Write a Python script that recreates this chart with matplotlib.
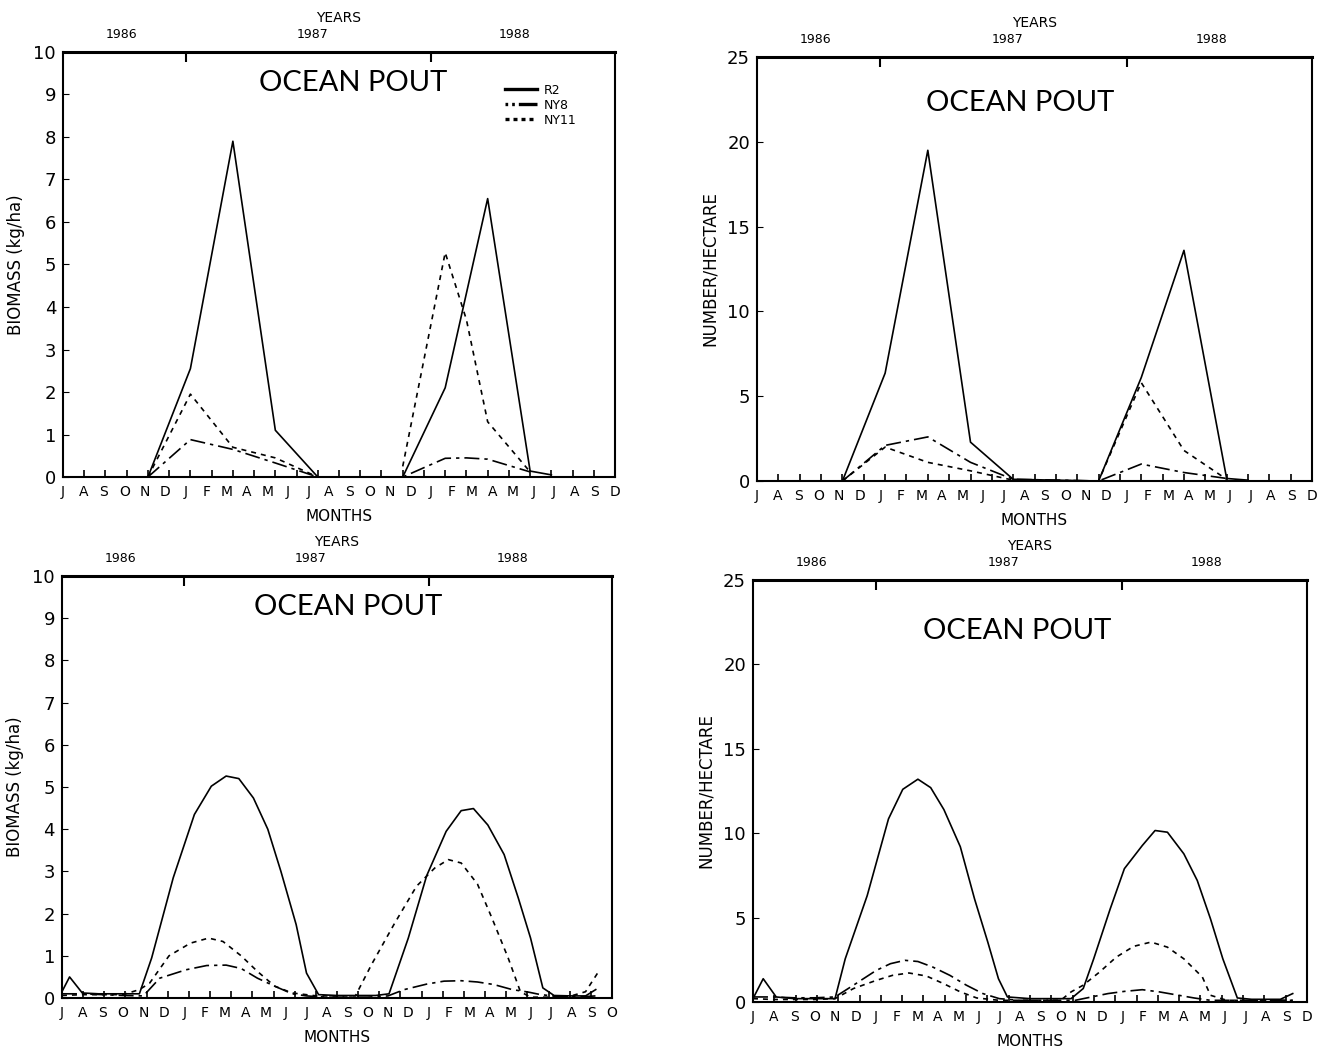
import matplotlib
matplotlib.use("Agg")
import matplotlib.pyplot as plt

nan = float('nan')

# eje de datos: meses desde julio 1986 (0) hasta septiembre 1988 (26)
# las letras de los meses estan repartidas en 28 posiciones sobre el eje
meses = ['J', 'A', 'S', 'O', 'N', 'D', 'J', 'F', 'M', 'A', 'M', 'J', 'J', 'A',
         'S', 'O', 'N', 'D', 'J', 'F', 'M', 'A', 'M', 'J', 'J', 'A', 'S', 'D']
meses_bl = meses[:-1] + ['O']
anios = ['1986', '1987', '1988']
anios_pos = [2.85, 12.2, 22.1]      # en posiciones de letra (0..27)
cortes_anio = [6, 18]               # en posiciones de letra

# --- biomasa, datos crudos (arriba izquierda)
bio_x_r2 = [0, 4, 6, 8, 10, 12, 16, 18, 20, 22, 23]
bio_r2 = [0, 0, 2.55, 7.9, 1.1, 0.0, 0, 2.1, 6.55, 0.14, 0.05]
bio_x_ny8 = [4, 6, 8, 10, 12, 16, 18, 19, 20, 22]
bio_ny8 = [0, 0.88, 0.65, 0.33, 0.0, 0, 0.44, 0.45, 0.42, 0.12]
bio_x_ny11 = [4, 6, 8, 10, 12, 14, 16, 18, 19, 20, 22]
bio_ny11 = [0, 1.95, 0.7, 0.45, 0.0, nan, 0.25, 5.28, 3.7, 1.3, 0.12]

# --- numero/hectarea, datos crudos (arriba derecha)
num_x_r2 = [0, 4, 6, 8, 10, 12, 16, 18, 20, 22, 23]
num_r2 = [0, 0, 6.36, 19.5, 2.29, 0.1, 0, 6.1, 13.6, 0.15, 0.05]
num_x_ny8 = [4, 6, 8, 10, 12, 16, 18, 20, 22]
num_ny8 = [0, 2.1, 2.6, 1.1, 0.1, 0, 1.0, 0.5, 0.15]
num_x_ny11 = [4, 6, 8, 10, 12, 16, 18, 20, 22]
num_ny11 = [0, 2.0, 1.1, 0.6, 0.05, 0, 5.8, 1.8, 0.1]

# --- biomasa suavizada (abajo izquierda)
bios_x_r2 = [0, 0.36, 0.96, 1.73, 2.7, 3.66, 4.24, 5.26, 6.26, 7.06, 7.76, 8.36,
             9.05, 9.73, 10.35, 11.07, 11.56, 12.13, 13.0, 13.96, 14.83, 15.46,
             16.37, 17.24, 18.16, 18.87, 19.45, 20.13, 20.9, 21.57, 22.15, 22.73,
             23.26, 24.07, 24.75, 25.23]
bios_r2 = [0.15, 0.5, 0.12, 0.1, 0.1, 0.1, 0.95, 2.85, 4.35, 5.02, 5.26, 5.2,
           4.74, 4.0, 3.0, 1.74, 0.59, 0.08, 0.06, 0.06, 0.06, 0.1,
           1.42, 2.9, 3.95, 4.44, 4.49, 4.1, 3.4, 2.37, 1.42, 0.24,
           0.06, 0.05, 0.05, 0.2]
bios_x_ny8 = [0, 0.96, 1.93, 2.89, 3.85, 4.62, 5.87, 6.84, 7.76, 8.47, 9.24,
              10.06, 10.88, 11.56, 12.52, 13.48, 14.44, 15.41, 16.18, 17.24,
              18.06, 18.87, 19.64, 20.41, 21.28, 22.05, 22.63, 23.59, 24.56, 25.23]
bios_ny8 = [0.1, 0.1, 0.08, 0.06, 0.05, 0.47, 0.67, 0.77, 0.78, 0.7, 0.47,
            0.28, 0.1, 0.05, 0.02, 0.02, 0.02, 0.05, 0.2, 0.33,
            0.4, 0.41, 0.38, 0.32, 0.2, 0.14, 0.08, 0.03, 0.03, 0.05]
bios_x_ny11 = [0, 0.96, 1.93, 2.89, 3.66, 4.14, 5.06, 6.07, 6.93, 7.61, 8.47,
               9.24, 10.06, 10.88, 12.04, 13.0, 13.87, 14.64, 15.7, 16.76, 17.62,
               18.26, 18.87, 19.64, 20.32, 21.09, 21.67, 22.15, 23.11, 24.07,
               24.75, 25.33]
bios_ny11 = [0.06, 0.08, 0.08, 0.08, 0.2, 0.35, 1.0, 1.3, 1.42, 1.34, 1.0,
             0.63, 0.28, 0.12, 0.05, 0.05, 0.05, 0.8, 1.75, 2.65, 3.08,
             3.28, 3.2, 2.7, 1.9, 0.95, 0.15, 0.02, 0.02, 0.05,
             0.15, 0.6]

# --- numero/hectarea suavizado (abajo derecha)
nums_x_r2 = [0, 0.48, 1.09, 1.93, 2.89, 3.85, 4.33, 5.36, 6.36, 7.03, 7.74, 8.34,
             8.96, 9.73, 10.4, 11.02, 11.52, 11.94, 13.0, 13.96, 14.93, 15.5,
             15.99, 16.76, 17.43, 18.27, 18.87, 19.45, 20.22, 20.85, 21.47,
             22.05, 22.73, 23.4, 24.07, 24.75, 25.33]
nums_r2 = [0.2, 1.38, 0.3, 0.2, 0.2, 0.2, 2.56, 6.3, 10.85, 12.6, 13.2, 12.7,
           11.4, 9.2, 6.1, 3.55, 1.38, 0.3, 0.2, 0.2, 0.2, 0.8,
           2.56, 5.5, 7.9, 9.27, 10.16, 10.06, 8.78, 7.2, 4.93,
           2.56, 0.24, 0.16, 0.16, 0.16, 0.5]
nums_x_ny8 = [0, 0.96, 1.93, 2.89, 3.85, 4.72, 5.78, 6.45, 7.13, 7.74, 8.44,
              9.24, 10.01, 10.79, 11.56, 12.52, 13.48, 14.44, 15.12, 15.89,
              16.66, 17.43, 18.27, 19.07, 19.84, 20.7, 21.47, 22.15, 23.11,
              24.07, 25.33]
nums_ny8 = [0.3, 0.3, 0.25, 0.25, 0.3, 1.0, 1.87, 2.27, 2.47, 2.4, 2.07,
            1.58, 1.0, 0.5, 0.2, 0.1, 0.1, 0.1, 0.1, 0.3,
            0.5, 0.63, 0.73, 0.6, 0.43, 0.24, 0.1, 0.1, 0.1,
            0.1, 0.1]
nums_x_ny11 = [0, 0.96, 1.93, 2.89, 3.85, 4.72, 5.78, 6.55, 7.32, 8.14, 8.96,
               9.73, 10.5, 11.56, 12.52, 13.48, 14.44, 14.93, 15.5, 16.27,
               17.05, 17.87, 18.68, 19.45, 20.22, 21.09, 21.47, 22.24, 23.11,
               24.07, 25.33]
nums_ny11 = [0.2, 0.15, 0.15, 0.15, 0.2, 0.8, 1.28, 1.58, 1.72, 1.54, 1.08,
             0.6, 0.24, 0.1, 0.1, 0.1, 0.1, 0.6, 1.0, 1.78,
             2.66, 3.3, 3.55, 3.25, 2.56, 1.48, 0.4, 0.1, 0.1,
             0.1, 0.1]

estilo_r2 = '-'
estilo_ny8 = (0, (9, 3, 2, 3))
estilo_ny11 = (0, (3, 3))

# de posicion de letra (0..27) a mes de datos (0..26)
a_mes = (lambda p: p * 26 / 27, lambda m: m * 27 / 26)


def panel(fig, rect, series, ymax, ystep, ylabel, titulo_pos, etiquetas_mes):
    ax = fig.add_axes(rect)
    for (x, y, ls, nombre) in series:
        ax.plot(x, y, color='black', linestyle=ls, linewidth=1.2, label=nombre)
    ax.set_xlim(0, 26)
    ax.set_ylim(0, ymax)
    ax.set_xticks(range(27))
    ax.set_xticklabels([])
    ax.set_yticks(range(0, ymax + 1, ystep))
    ax.tick_params(axis='x', direction='in', length=5, width=1.2)
    ax.tick_params(axis='y', direction='in', length=4, labelsize=13, pad=5)
    for s in ax.spines.values():
        s.set_linewidth(1.5)
    ax.spines['top'].set_linewidth(2.2)
    ax.set_ylabel(ylabel, fontsize=12, labelpad=6)
    ax.text(titulo_pos[0], titulo_pos[1], 'OCEAN POUT', transform=ax.transAxes,
            ha='center', va='center', fontsize=21,
            family=['Lato', 'DejaVu Sans'])

    # letras de los meses
    inf = ax.secondary_xaxis('bottom', functions=(a_mes[1], a_mes[0]))
    inf.set_xticks(range(28))
    inf.set_xticklabels(etiquetas_mes, fontsize=10)
    inf.tick_params(length=0, pad=6)
    inf.spines['bottom'].set_visible(False)
    inf.set_xlabel('MONTHS', fontsize=11, labelpad=7)

    # anios arriba
    sec = ax.secondary_xaxis('top', functions=(a_mes[1], a_mes[0]))
    sec.set_xticks(cortes_anio)
    sec.set_xticklabels([])
    sec.set_xticks(anios_pos, labels=anios, minor=True)
    sec.tick_params(which='major', direction='in', length=7, width=1.5)
    sec.tick_params(which='minor', length=0, labelsize=9, pad=8)
    sec.spines['top'].set_visible(False)
    sec.set_xlabel('YEARS', fontsize=10, labelpad=4)
    return ax


fig = plt.figure(figsize=(13.21, 10.5), dpi=100)

ax1 = panel(fig, [0.0477, 0.5457, 0.4179, 0.4048],
            [(bio_x_r2, bio_r2, estilo_r2, 'R2'),
             (bio_x_ny8, bio_ny8, estilo_ny8, 'NY8'),
             (bio_x_ny11, bio_ny11, estilo_ny11, 'NY11')],
            10, 1, 'BIOMASS (kg/ha)', (0.525, 0.927), meses)
leg = ax1.legend(loc='upper left', bbox_to_anchor=(0.80, 0.925), frameon=False,
                 fontsize=9, handlelength=2.6, labelspacing=0.15,
                 handletextpad=0.5, borderpad=0, borderaxespad=0)
lineas = leg.get_lines()
for linea in lineas:
    linea.set_linewidth(2.4)
lineas[1].set_linestyle((0, (0.8, 1.2, 0.8, 1.2, 8, 0)))
lineas[2].set_linestyle((0, (1.2, 1.2)))

panel(fig, [0.5731, 0.5419, 0.4201, 0.4038],
      [(num_x_r2, num_r2, estilo_r2, 'R2'),
       (num_x_ny8, num_ny8, estilo_ny8, 'NY8'),
       (num_x_ny11, num_ny11, estilo_ny11, 'NY11')],
      25, 5, 'NUMBER/HECTARE', (0.474, 0.892), meses)

panel(fig, [0.0469, 0.0495, 0.4164, 0.4019],
      [(bios_x_r2, bios_r2, estilo_r2, 'R2'),
       (bios_x_ny8, bios_ny8, estilo_ny8, 'NY8'),
       (bios_x_ny11, bios_ny11, estilo_ny11, 'NY11')],
      10, 1, 'BIOMASS (kg/ha)', (0.52, 0.927), meses_bl)

panel(fig, [0.5700, 0.0457, 0.4194, 0.4019],
      [(nums_x_r2, nums_r2, estilo_r2, 'R2'),
       (nums_x_ny8, nums_ny8, estilo_ny8, 'NY8'),
       (nums_x_ny11, nums_ny11, estilo_ny11, 'NY11')],
      25, 5, 'NUMBER/HECTARE', (0.477, 0.88), meses)

fig.savefig('out.png', dpi=100)
